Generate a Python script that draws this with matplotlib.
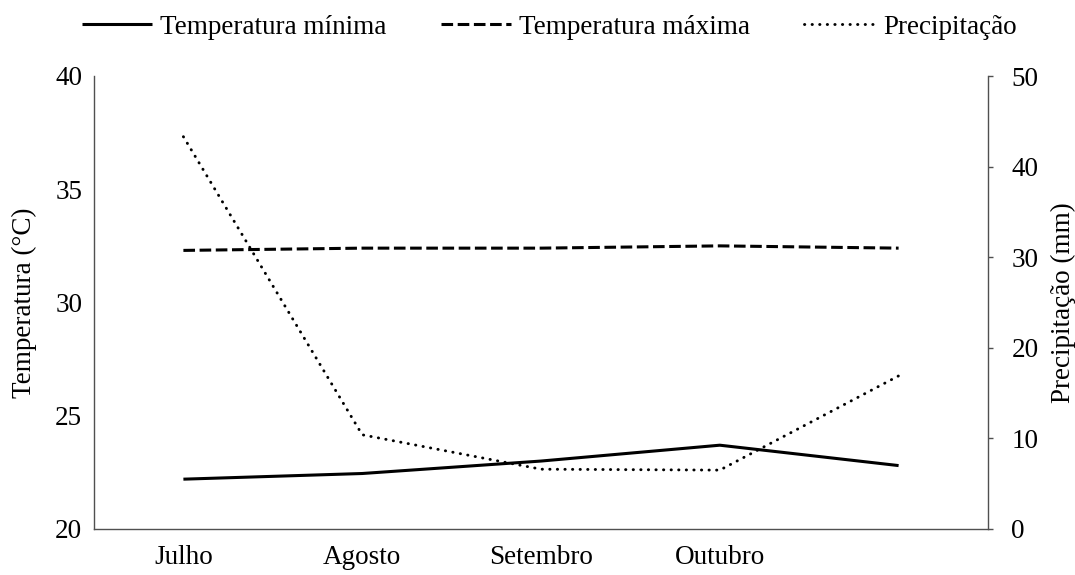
import matplotlib
matplotlib.use("Agg")
import matplotlib.pyplot as plt

plt.rcParams['font.family'] = ['Liberation Serif', 'DejaVu Serif']

categories = ["Julho", "Agosto", "Setembro", "Outubro", ""]
temp_min = [22.2, 22.45, 23.0, 23.7, 22.8]
temp_max = [32.3, 32.4, 32.4, 32.5, 32.4]
precip = [43.3, 10.4, 6.6, 6.5, 16.9]

FS = 19.5
fig = plt.figure(figsize=(10.75, 5.75), dpi=100)
ax = fig.add_axes([94/1075, 1 - 529/575, (988 - 94)/1075, (529 - 76)/575])
ax2 = ax.twinx()

x = list(range(len(categories)))
l1, = ax.plot(x, temp_min, color='black', lw=2.2, solid_capstyle='butt')
l2, = ax.plot(x, temp_max, color='black', lw=2.2, linestyle=(0, (3.8, 1.5)))
l3, = ax2.plot(x, precip, color='black', lw=2.1, linestyle=(0, (0.1, 2.5)),
               dash_capstyle='round')

ax.set_xlim(-0.5, len(categories) - 0.5)
ax.set_ylim(20, 40)
ax2.set_ylim(0, 50)
ax.set_yticks([20, 25, 30, 35, 40])
ax2.set_yticks([0, 10, 20, 30, 40, 50])
ax.set_xticks(x)
ax.set_xticklabels(categories)

spine_col = '#505050'
for a in (ax, ax2):
    a.spines['top'].set_visible(False)
    for s in ('left', 'bottom', 'right'):
        a.spines[s].set_color(spine_col)
        a.spines[s].set_linewidth(1.0)
ax.spines['right'].set_visible(False)
ax2.spines['left'].set_visible(False)
ax2.spines['bottom'].set_visible(False)

ax.tick_params(axis='y', length=0, pad=8.5, labelsize=FS)
ax.tick_params(axis='x', length=0, pad=11.5, labelsize=FS)
ax2.tick_params(axis='y', length=3.8, width=1.0, color=spine_col, pad=13, labelsize=FS)

ax.set_ylabel("Temperatura (°C)", fontsize=FS, labelpad=13)
ax2.set_ylabel("Precipitação (mm)", fontsize=FS, labelpad=9)

fig.legend([l1, l2, l3], ["Temperatura mínima", "Temperatura máxima", "Precipitação"],
           loc='center', bbox_to_anchor=(549/1075, 1 - 27/575), ncol=3, frameon=False,
           fontsize=FS, handlelength=2.6, handletextpad=0.3, columnspacing=2.0,
           borderpad=0.0)

fig.savefig("out.png", dpi=100)
